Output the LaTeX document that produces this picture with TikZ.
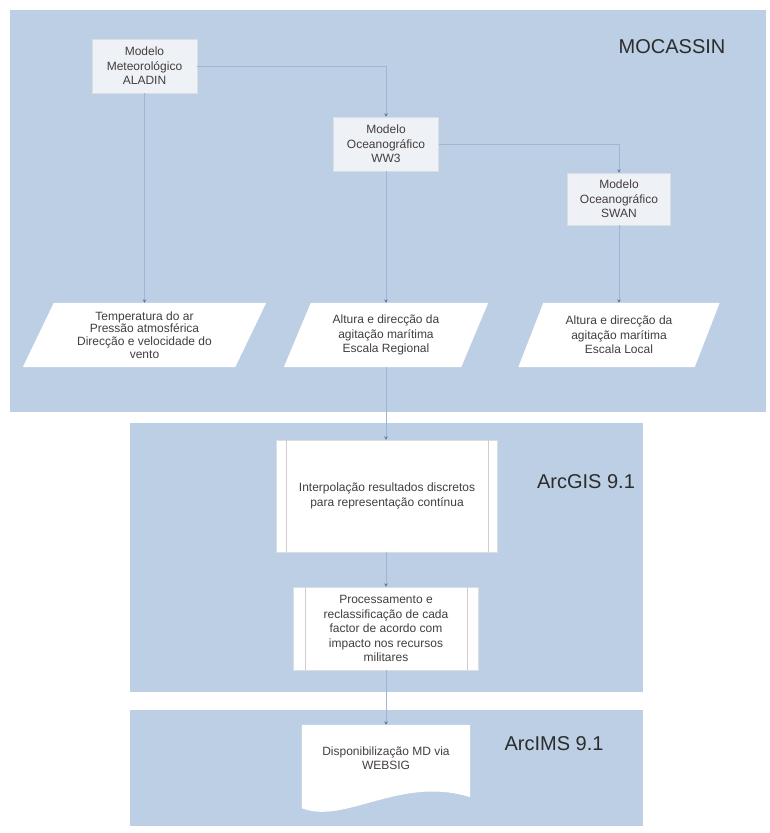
\documentclass[tikz,border=0pt]{standalone}
\usepackage{fontspec}
\setmainfont{Liberation Sans}
\usetikzlibrary{arrows.meta, backgrounds}

\definecolor{panelblue}{HTML}{BCCFE4}
\definecolor{linkblue}{HTML}{9FB6D2}
\definecolor{tipblue}{HTML}{5C7DAA}
\definecolor{boxgray}{HTML}{EEF1F5}
\definecolor{boxline}{HTML}{D9DEE5}
\definecolor{textgray}{HTML}{443E3E}
\definecolor{procline}{HTML}{D9CACA}
\definecolor{titlegray}{HTML}{2C2C2C}

\tikzset{
    panel/.style={fill=panelblue},
    boxtext/.style={align=center, text=textgray, font=\fontsize{12}{14.5}\selectfont},
    model/.style={boxtext, rectangle, fill=boxgray, draw=boxline, line width=0.4pt, minimum width=105pt, minimum height=54pt, inner sep=2pt},
    para/.style={boxtext, rectangle, minimum height=64pt, inner sep=0pt},
    proc/.style={boxtext, rectangle, fill=white, draw=boxline, line width=0.4pt, inner sep=2pt},
    docnode/.style={boxtext, rectangle, minimum width=168pt, minimum height=66pt, inner sep=2pt},
    paneltitle/.style={text=titlegray, font=\fontsize{20}{24}\selectfont},
    link/.style={draw=linkblue, line width=0.5pt, -{Stealth[length=3.5pt, width=3.5pt, color=tipblue]}}
}

\newcommand{\slantfill}[2]{%
    \fill[white] ([xshift=#2]#1.north west) -- ([xshift=#2]#1.north east)
        -- ([xshift=-#2]#1.south east) -- ([xshift=-#2]#1.south west) -- cycle;}

\begin{document}
\begin{tikzpicture}[x=1pt, y=-1pt]
    \useasboundingbox (0,0) rectangle (769,833);

    % panels
    \begin{scope}[on background layer]
        \fill[white] (0,0) rectangle (769,833);
        \fill[panel] (10,10) rectangle (766,412);
        \fill[panel] (130,423) rectangle (643,692);
        \fill[panel] (130,710) rectangle (643,826);
    \end{scope}

    \node[paneltitle] (mocassin) at (672,47) {MOCASSIN};
    \node[paneltitle] (arcgis) at (586,482) {ArcGIS 9.1};
    \node[paneltitle] (arcims) at (554,744) {ArcIMS 9.1};

    % models
    \node[model] (aladin) at (144.5,66) {Modelo\\Meteorológico\\ALADIN};
    \node[model] (ww3) at (386,144) {Modelo\\Oceanográfico\\WW3};
    \node[model, minimum width=103pt, minimum height=52pt] (swan) at (619,199) {Modelo\\Oceanográfico\\SWAN};

    % outputs
    \node[para, minimum width=212pt, font=\fontsize{12}{12.7}\selectfont] (meteo) at (144.5,335)
        {Temperatura do ar\\Pressão atmosférica\\Direcção e velocidade do\\vento};
    \node[para, minimum width=177pt] (regional) at (386,335)
        {Altura e direcção da\\agitação marítima\\Escala Regional};
    \node[para, minimum width=176pt] (local) at (619,335)
        {Altura e direcção da\\agitação marítima\\Escala Local};

    % ArcGIS
    \node[proc, minimum width=221pt, minimum height=112pt] (interp) at (387,496)
        {Interpolação resultados discretos\\para representação contínua};
    \node[proc, minimum width=185pt, minimum height=83pt] (reclass) at (386,628.5)
        {Processamento e\\reclassificação de cada\\factor de acordo com\\impacto nos recursos\\militares};
    \draw[procline] ([xshift=10pt]interp.north west) -- ([xshift=10pt]interp.south west);
    \draw[procline] ([xshift=-10pt]interp.north east) -- ([xshift=-10pt]interp.south east);
    \draw[procline] ([xshift=12pt]reclass.north west) -- ([xshift=12pt]reclass.south west);
    \draw[procline] ([xshift=-12pt]reclass.north east) -- ([xshift=-12pt]reclass.south east);

    % ArcIMS
    \node[docnode] (websig) at (386,758) {Disponibilização MD via\\WEBSIG};

    \begin{scope}[on background layer]
        \slantfill{meteo}{15.5pt}
        \slantfill{regional}{13.5pt}
        \slantfill{local}{12.5pt}
        \fill[white] (websig.north west) -- (websig.north east) -- ([yshift=-6pt]websig.south east)
            .. controls +(-70,-22) and +(43,17) .. ([yshift=-17pt]websig.south west) -- cycle;
    \end{scope}

    % connectors
    \draw[link] (aladin.east) -| (ww3.north);
    \draw[link] (ww3.east) -| (swan.north);
    \draw[link] (aladin.south) -- (meteo.north);
    \draw[link] (ww3.south) -- (regional.north);
    \draw[link] (swan.south) -- (local.north);
    \draw[link] (regional.south) -- (regional.south |- interp.north);
    \draw[link] (interp.south -| reclass.north) -- (reclass.north);
    \draw[link] (reclass.south) -- (websig.north);
\end{tikzpicture}
\end{document}
